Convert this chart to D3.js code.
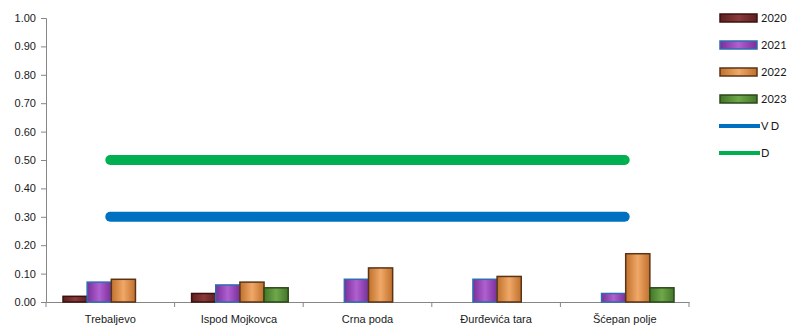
<!DOCTYPE html>
<html><head><meta charset="utf-8">
<script src="https://cdn.jsdelivr.net/npm/d3@7"></script>
<style>body{margin:0;background:#fff;}svg{display:block;font-family:Lato,"Liberation Sans",sans-serif;}</style>
</head><body><svg id="c" width="787" height="327"></svg>
<script>
const categories = ["Trebaljevo","Ispod Mojkovca","Crna poda","Đurđevića tara","Šćepan polje"];
const years = ["2020","2021","2022","2023"];
const v2020 = [0.02,0.03,null,null,null];
const v2021 = [0.07,0.06,0.08,0.08,0.03];
const v2022 = [0.08,0.07,0.12,0.09,0.17];
const v2023 = [null,0.05,null,null,0.05];
const lineVD = [0.30,0.30,0.30,0.30,0.30];
const lineD = [0.50,0.50,0.50,0.50,0.50];
const yTicks = [0,0.1,0.2,0.3,0.4,0.5,0.6,0.7,0.8,0.9,1.0];

const seriesVals = [v2020,v2021,v2022,v2023];
const fills = [["#5e1f1f","#8a3a3a"],["#7a2f9a","#b060d0"],["#c0702c","#f0a868"],["#44752a","#6fa84a"]];
const strokes = ["#3d1010","#2e6db0","#5a3418","#2a4a18"];

const svg = d3.select("#c");
const defs = svg.append("defs");
fills.forEach((f,i)=>{
  const g = defs.append("linearGradient").attr("id","g"+i).attr("x1","0").attr("x2","1").attr("y1","0").attr("y2","0");
  g.append("stop").attr("offset","0").attr("stop-color",f[0]);
  g.append("stop").attr("offset","0.5").attr("stop-color",f[1]);
  g.append("stop").attr("offset","1").attr("stop-color",f[0]);
});

const x = d3.scaleBand().domain(categories).range([46,689]).paddingInner(0).paddingOuter(0);
const xi = d3.scaleBand().domain(years).range([17, x.bandwidth()-15]).padding(0);
const y = d3.scaleLinear().domain([0,1]).range([302,18]);

// y axis
const ya = svg.append("g").attr("transform","translate(46,0)")
  .call(d3.axisLeft(y).tickValues(yTicks).tickFormat(d3.format(".2f")).tickSizeOuter(0).tickSize(5));
ya.select(".domain").attr("stroke","#868686");
ya.selectAll(".tick line").attr("stroke","#868686");
ya.selectAll(".tick text").attr("fill","#1a1a1a").attr("font-size","11px").attr("x",-10);

// x axis
const xa = svg.append("g").attr("transform","translate(0,302)")
  .call(d3.axisBottom(x).tickSize(0).tickSizeOuter(0));
xa.select(".domain").attr("stroke","#868686");
xa.selectAll(".tick text").attr("fill","#1a1a1a").attr("font-size","11px").attr("dy","1.65em");
// category boundary ticks
const bounds = categories.map(c=>x(c)).concat([x(categories[categories.length-1])+x.bandwidth()]);
svg.append("g").selectAll("line").data(bounds).join("line")
  .attr("x1",d=>d).attr("x2",d=>d).attr("y1",302).attr("y2",307).attr("stroke","#868686");

// bars
seriesVals.forEach((vals,si)=>{
  svg.append("g").selectAll("rect").data(categories.map((c,i)=>({c,v:vals[i]})).filter(d=>d.v!=null))
    .join("rect")
    .attr("x",d=>x(d.c)+xi(years[si]))
    .attr("width",xi.bandwidth())
    .attr("y",d=>y(d.v))
    .attr("height",d=>y(0)-y(d.v))
    .attr("fill","url(#g"+si+")")
    .attr("stroke",strokes[si]).attr("stroke-width",1.5);
});

// lines
const line = d3.line().x((d,i)=>x(categories[i])+x.bandwidth()/2).y(d=>y(d));
[[lineVD,"#0070C0"],[lineD,"#00B050"]].forEach(([vals,col])=>{
  svg.append("path").attr("d",line(vals)).attr("fill","none").attr("stroke",col)
    .attr("stroke-width",10).attr("stroke-linecap","round");
});

// legend
const leg = svg.append("g");
const legItems = [
  {t:"2020",type:"bar",i:0},{t:"2021",type:"bar",i:1},{t:"2022",type:"bar",i:2},{t:"2023",type:"bar",i:3},
  {t:"V D",type:"line",c:"#0070C0"},{t:"D",type:"line",c:"#00B050"}
];
legItems.forEach((d,k)=>{
  const cy = 18 + k*27;
  if(d.type==="bar"){
    leg.append("rect").attr("x",720).attr("y",cy-4).attr("width",37).attr("height",8)
      .attr("fill","url(#g"+d.i+")").attr("stroke",strokes[d.i]).attr("stroke-width",1.5);
  } else {
    leg.append("line").attr("x1",719).attr("x2",760).attr("y1",cy).attr("y2",cy)
      .attr("stroke",d.c).attr("stroke-width",4);
  }
  leg.append("text").attr("x",761).attr("y",cy).attr("dy","0.35em").attr("font-size","11px").attr("fill","#1a1a1a").text(d.t);
});
</script></body></html>
